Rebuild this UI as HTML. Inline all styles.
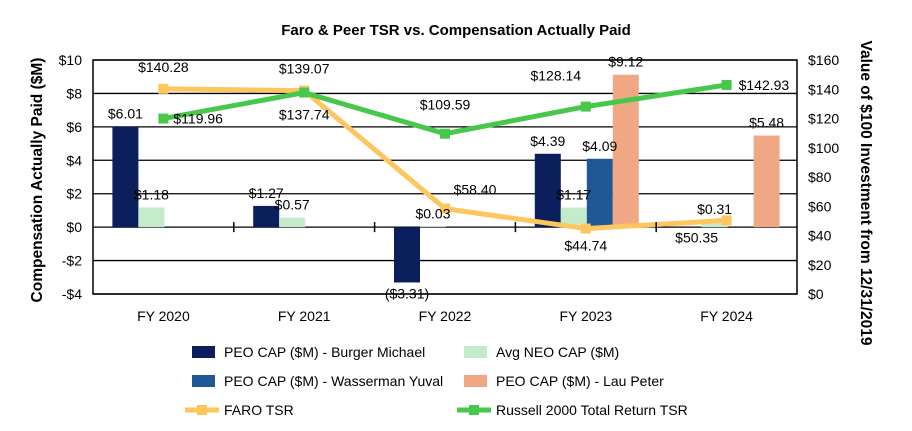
<!DOCTYPE html>
<html><head><meta charset="utf-8"><style>
body{margin:0;background:#fff;}
svg{font-family:"Liberation Sans",Arial,sans-serif;display:block}
</style></head><body>
<svg id="c" width="912" height="431" viewBox="0 0 912 431" xmlns="http://www.w3.org/2000/svg">
<text x="456" y="35" text-anchor="middle" font-size="15" font-weight="bold">Faro &amp; Peer TSR vs. Compensation Actually Paid</text>
<text transform="translate(42,180) rotate(-90)" text-anchor="middle" font-size="15.5" font-weight="bold">Compensation Actually Paid ($M)</text>
<text transform="translate(861,193) rotate(90)" text-anchor="middle" font-size="15.5" font-weight="bold">Value of $100 Investment from 12/31/2019</text>
<g id="grid"></g><g id="bars"></g><g id="lines"></g><g id="labels"></g><g id="axes"></g>
<g id="legend" font-size="14"></g>
</svg>
<script>
const categories=["FY 2020","FY 2021","FY 2022","FY 2023","FY 2024"];
const burger=[6.01,1.27,-3.31,4.39,null];
const avgNeo=[1.18,0.57,0.03,1.17,0.31];
const wasserman=[null,null,null,4.09,null];
const lau=[null,null,null,9.12,5.48];
const faroTsr=[140.28,139.07,58.40,44.74,50.35];
const russellTsr=[119.96,137.74,109.59,128.14,142.93];
const leftTicks=[10,8,6,4,2,0,-2,-4];
const rightTicks=[160,140,120,100,80,60,40,20,0];

const X0=93,X1=797,Y0=60,Y1=294;
const NS="http://www.w3.org/2000/svg";
const bw=(X1-X0)/categories.length;
const yL=v=>Y0+(10-v)/14*(Y1-Y0);
const yR=v=>Y0+(160-v)/160*(Y1-Y0);
const cx=i=>X0+bw*(i+0.5);
function mk(tag,attrs,parent,text){const e=document.createElementNS(NS,tag);for(const k in attrs)e.setAttribute(k,attrs[k]);if(text!==undefined)e.textContent=text;document.getElementById(parent).appendChild(e);return e;}
const fmt=v=>v<0?"($"+Math.abs(v).toFixed(2)+")":"$"+v.toFixed(2);

leftTicks.forEach(t=>{
  const l=mk('line',{x1:X0,x2:X1,y1:yL(t),y2:yL(t),stroke:'#000','stroke-width':1.3},'grid');
  
  
  const tx=mk('text',{x:82,y:yL(t)+5,'text-anchor':'end','font-size':14},'axes',(t<0?"-$"+(-t):"$"+t));
  
  
});
rightTicks.forEach(t=>{
  const tx=mk('text',{x:808,y:yR(t)+5,'font-size':14},'axes',"$"+t);
  
  
});
const box=mk('rect',{x:X0,y:Y0,width:X1-X0,height:Y1-Y0,fill:'none',stroke:'#000','stroke-width':1.5},'axes');


categories.forEach((c,i)=>{
  const tx=mk('text',{x:cx(i),y:321,'text-anchor':'middle','font-size':14},'axes',c);
  
  
  if(i>0){const tk=mk('line',{x1:X0+bw*i,x2:X0+bw*i,y1:yL(0)-5,y2:yL(0)+5,stroke:'#000','stroke-width':1.5},'axes');
  
  }
});

const series=[[burger,'#0b1f5c','burger'],[avgNeo,'#c4ecca','avg-neo'],[wasserman,'#1f5896','wasserman'],[lau,'#f0a884','lau']];
const bwid=26;
series.forEach(([arr,col,nm],s)=>{
  arr.forEach((v,i)=>{
    if(v===null)return;
    const x=cx(i)-51+s*bwid;
    const y=Math.min(yL(v),yL(0)),h=Math.abs(yL(v)-yL(0));
    const r=mk('rect',{x:x,y:y,width:bwid,height:Math.max(h,0.5),fill:col},'bars');
    
    
    const ly=v<0?yL(v)+16:yL(v)-8;
    const t=mk('text',{x:x+bwid/2,y:ly,'text-anchor':'middle','font-size':14},'labels',fmt(v));
    
    
  });
});

function drawLine(arr,col,nm,offs){
  const pts=arr.map((v,i)=>cx(i)+','+yR(v)).join(' ');
  const pl=mk('polyline',{points:pts,fill:'none',stroke:col,'stroke-width':5,'stroke-linejoin':'round'},'lines');
  
  
  arr.forEach((v,i)=>{
    const m=mk('rect',{x:cx(i)-5,y:yR(v)-5,width:10,height:10,fill:col},'lines');
    
    
    const [dx,dy,anc]=offs[i];
    const t=mk('text',{x:cx(i)+dx,y:yR(v)+dy,'text-anchor':anc,'font-size':14},'labels',fmt(v));
    
    
  });
}
drawLine(faroTsr,'#fdc65e','faro',[[0,-17,'middle'],[0,-17,'middle'],[30,-14,'middle'],[0,22,'middle'],[-30,22,'middle']]);
drawLine(russellTsr,'#48c84a','russell',[[10,5,'start'],[0,27,'middle'],[0,-24,'middle'],[-30,-26,'middle'],[12,5,'start']]);

const legend=[
 ['rect','#0b1f5c','PEO CAP ($M) - Burger Michael',185,352],
 ['rect','#c4ecca','Avg NEO CAP ($M)',457,352],
 ['rect','#1f5896','PEO CAP ($M) - Wasserman Yuval',185,381],
 ['rect','#f0a884','PEO CAP ($M) - Lau Peter',457,381],
 ['line','#fdc65e','FARO TSR',185,410],
 ['line','#48c84a','Russell 2000 Total Return TSR',457,410]];
legend.forEach(([k,col,lab,x,y])=>{
  let m;
  if(k==='rect'){m=mk('rect',{x:x+7,y:y-6,width:23,height:12,fill:col},'legend');}
  else{m=mk('g',{},'legend');const l=document.createElementNS(NS,'line');l.setAttribute('x1',x);l.setAttribute('x2',x+34);l.setAttribute('y1',y);l.setAttribute('y2',y);l.setAttribute('stroke',col);l.setAttribute('stroke-width',5);m.appendChild(l);const r=document.createElementNS(NS,'rect');r.setAttribute('x',x+12);r.setAttribute('y',y-5);r.setAttribute('width',10);r.setAttribute('height',10);r.setAttribute('fill',col);m.appendChild(r);}
  
  
  const t=mk('text',{x:x+39,y:y+5},'legend',lab);
  
  
});
</script>
</body></html>
